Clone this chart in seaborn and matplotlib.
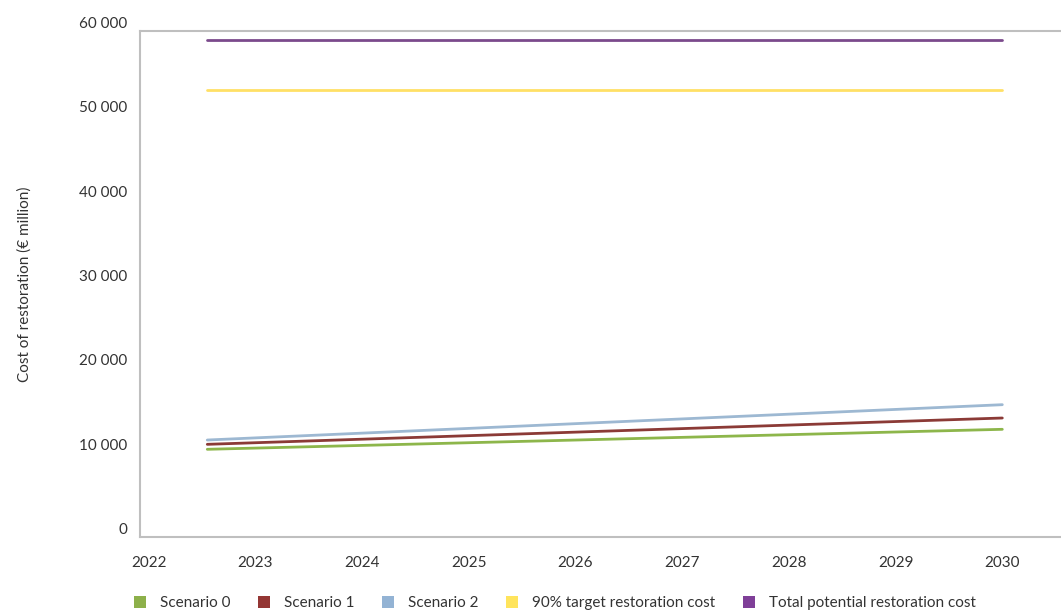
import pandas as pd
import matplotlib.pyplot as plt
import matplotlib.ticker as mticker
from matplotlib.patches import Patch
import seaborn as sns

# Data (start and end of each straight line)
years = [2022.55, 2030.0]
scenario_0 = [10400, 12770]
scenario_1 = [10990, 14110]
scenario_2 = [11500, 15690]
target_90 = [53010, 53010]
total_potential = [58940, 58940]

series_names = ["Scenario 0", "Scenario 1", "Scenario 2",
                "90% target restoration cost", "Total potential restoration cost"]
line_colors = ["#8db64b", "#8b3a36", "#9db8d2", "#ffe066", "#7b4a8c"]
legend_colors = ["#8db04a", "#943634", "#93b3d4", "#ffe45c", "#7f3f98"]

rows = []
for name, vals in zip(series_names,
                      [scenario_0, scenario_1, scenario_2, target_90, total_potential]):
    for y, v in zip(years, vals):
        rows.append({"Year": y, "Cost": v, "Series": name})
df = pd.DataFrame(rows)

sns.set_style("white")
plt.rcParams["font.family"] = ["Lato", "DejaVu Sans"]

fig = plt.figure(figsize=(10.61, 6.14), dpi=100)
ax = fig.add_axes([0.132, 0.1254, 0.868, 0.8241])

sns.lineplot(data=df, x="Year", y="Cost", hue="Series",
             palette=dict(zip(series_names, line_colors)),
             linewidth=2.0, legend=False, ax=ax)

ax.set_xlim(2021.92, 2030.55)
ax.set_ylim(0, 60000)
ax.set_xticks(range(2022, 2031))
ax.set_yticks(range(0, 60001, 10000))
ax.yaxis.set_major_formatter(
    mticker.FuncFormatter(lambda v, p: f"{int(v):,}".replace(",", " ")))
ax.tick_params(axis="both", length=0, labelsize=11, colors="#333333")
ax.tick_params(axis="x", pad=14)
ax.tick_params(axis="y", pad=9)
for lbl in ax.get_yticklabels():
    lbl.set_verticalalignment("bottom")
ax.set_xlabel("")
ax.set_ylabel("Cost of restoration (€ million)", fontsize=11,
              color="#333333", labelpad=34)

for side in ["left", "bottom", "top"]:
    ax.spines[side].set_color("#bfbfbf")
    ax.spines[side].set_linewidth(1.5)
ax.spines["right"].set_visible(False)

handles = [Patch(facecolor=c, edgecolor="none") for c in legend_colors]
fig.legend(handles, series_names, loc="center", bbox_to_anchor=(0.523, 0.018),
           ncol=5, frameon=False, fontsize=11, handlelength=0.8,
           handleheight=0.8, columnspacing=1.8, handletextpad=0.9,
           labelcolor="#333333")

plt.savefig("out.png", dpi=100)
plt.close()
